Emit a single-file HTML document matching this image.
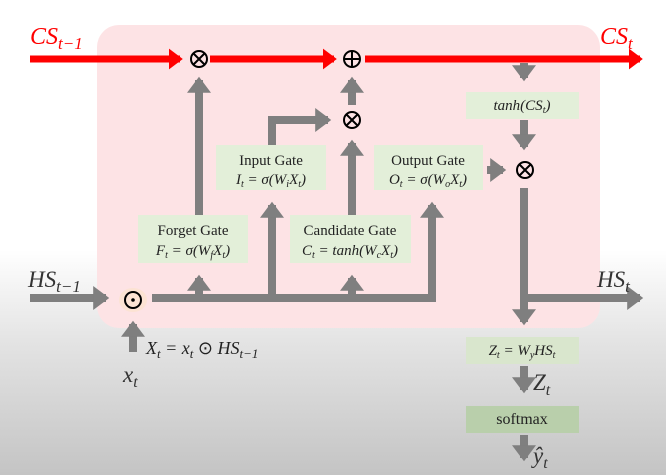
<!DOCTYPE html>
<html><head><meta charset="utf-8"><style>
html,body{margin:0;padding:0;}
body{width:666px;height:475px;overflow:hidden;background:linear-gradient(to bottom,#ffffff 0px,#ffffff 250px,#e4e4e4 340px,#c4c4c4 475px);}
svg{position:absolute;left:0;top:0;}
text{font-family:"Liberation Serif",serif;}
.m{font-style:italic;}
</style></head><body>
<svg width="666" height="475" viewBox="0 0 666 475">
<defs>
<marker id="g" markerWidth="3" markerHeight="3" refX="1.6" refY="1.5" orient="auto" markerUnits="strokeWidth"><path d="M0,0 L2,1.5 L0,3 z" fill="#7f7f7f"/></marker>
<marker id="r" markerWidth="3" markerHeight="3" refX="1.6" refY="1.5" orient="auto" markerUnits="strokeWidth"><path d="M0,0 L2,1.5 L0,3 z" fill="#ff0000"/></marker>
</defs>
<rect x="97" y="25" width="503" height="303" rx="22" fill="#fde3e5"/>
<ellipse cx="133" cy="300" rx="14" ry="12" fill="#fbe2cc" opacity="0.7"/>
<g stroke="#ff0000" stroke-width="7" fill="none">
<line x1="30" y1="59" x2="180" y2="59" marker-end="url(#r)"/>
<line x1="210" y1="59" x2="334" y2="59" marker-end="url(#r)"/>
<line x1="365" y1="59" x2="640" y2="59" marker-end="url(#r)"/>
</g>
<g stroke="#7f7f7f" stroke-width="8" fill="none">
<line x1="199" y1="215" x2="199" y2="80" marker-end="url(#g)"/>
<polyline points="272,145 272,120 328,120" marker-end="url(#g)"/>
<line x1="352" y1="215" x2="352" y2="143" marker-end="url(#g)"/>
<line x1="352" y1="105" x2="352" y2="80" marker-end="url(#g)"/>
<line x1="487" y1="170" x2="503" y2="170" marker-end="url(#g)"/>
<line x1="524" y1="63" x2="524" y2="78" marker-end="url(#g)"/>
<line x1="524" y1="120" x2="524" y2="147" marker-end="url(#g)"/>
<line x1="524" y1="188" x2="524" y2="322" marker-end="url(#g)"/>
<line x1="524" y1="298" x2="640" y2="298" marker-end="url(#g)"/>
<line x1="30" y1="298" x2="106" y2="298" marker-end="url(#g)"/>
<polyline points="152,298 432,298 432,205" marker-end="url(#g)"/>
<line x1="199" y1="298" x2="199" y2="278" marker-end="url(#g)"/>
<line x1="272" y1="298" x2="272" y2="205" marker-end="url(#g)"/>
<line x1="352" y1="298" x2="352" y2="278" marker-end="url(#g)"/>
<line x1="133" y1="352" x2="133" y2="324" marker-end="url(#g)"/>
<line x1="524" y1="366" x2="524" y2="390" marker-end="url(#g)"/>
<line x1="524" y1="435" x2="524" y2="458" marker-end="url(#g)"/>
</g>
<g fill="#e3efd9">
<rect x="138" y="215" width="110" height="48"/>
<rect x="216" y="145" width="110" height="45"/>
<rect x="290" y="215" width="121" height="48"/>
<rect x="374" y="145" width="109" height="45"/>
<rect x="466" y="92" width="113" height="27"/>
<rect x="466" y="337" width="113" height="27" fill="#d9e6cd"/>
</g>
<rect x="466" y="406" width="113" height="27" fill="#b9cfab"/>
<g stroke="#000" stroke-width="2" fill="none">
<circle cx="199" cy="59" r="8"/><path d="M193.5,53.5 L204.5,64.5 M204.5,53.5 L193.5,64.5"/>
<circle cx="352" cy="59" r="8"/><path d="M344,59 H360 M352,51 V67"/>
<circle cx="352" cy="120" r="8"/><path d="M346.5,114.5 L357.5,125.5 M357.5,114.5 L346.5,125.5"/>
<circle cx="525" cy="170" r="8"/><path d="M519.5,164.5 L530.5,175.5 M530.5,164.5 L519.5,175.5"/>
<circle cx="133" cy="300" r="8"/>
</g>
<circle cx="133" cy="300" r="1.8" fill="#000"/>
<g font-size="24" fill="#ff0000">
<text x="30" y="44" class="m">CS<tspan font-size="17" dy="5">t−1</tspan></text>
<text x="600" y="44" class="m">CS<tspan font-size="17" dy="5">t</tspan></text>
</g>
<g font-size="23" fill="#333">
<text x="28" y="287" class="m">HS<tspan font-size="17" dy="5">t−1</tspan></text>
<text x="597" y="287" class="m">HS<tspan font-size="17" dy="5">t</tspan></text>
<text x="123" y="382" class="m">x<tspan font-size="16" dy="5">t</tspan></text>
<text x="533" y="390" class="m">Z<tspan font-size="16" dy="5">t</tspan></text>
<text x="533" y="463" class="m">ŷ<tspan font-size="16" dy="5">t</tspan></text>
</g>
<text x="146" y="354" font-size="18" fill="#222" class="m">X<tspan font-size="13" dy="4">t</tspan><tspan dy="-4"> = x</tspan><tspan font-size="13" dy="4">t</tspan><tspan dy="-4" font-style="normal"> ⊙ </tspan>HS<tspan font-size="13" dy="4">t−1</tspan></text>
<g font-size="15" fill="#222" text-anchor="middle">
<text x="193" y="235">Forget Gate</text>
<text x="193" y="255" class="m">F<tspan font-size="10" dy="3">t</tspan><tspan dy="-3"> = σ(W</tspan><tspan font-size="10" dy="3">f</tspan><tspan dy="-3">X</tspan><tspan font-size="10" dy="3">t</tspan><tspan dy="-3">)</tspan></text>
<text x="271" y="165">Input Gate</text>
<text x="271" y="184" class="m">I<tspan font-size="10" dy="3">t</tspan><tspan dy="-3"> = σ(W</tspan><tspan font-size="10" dy="3">i</tspan><tspan dy="-3">X</tspan><tspan font-size="10" dy="3">t</tspan><tspan dy="-3">)</tspan></text>
<text x="350" y="235">Candidate Gate</text>
<text x="350" y="255" class="m">C<tspan font-size="10" dy="3">t</tspan><tspan dy="-3"> = tanh(W</tspan><tspan font-size="10" dy="3">c</tspan><tspan dy="-3">X</tspan><tspan font-size="10" dy="3">t</tspan><tspan dy="-3">)</tspan></text>
<text x="428" y="165">Output Gate</text>
<text x="428" y="184" class="m">O<tspan font-size="10" dy="3">t</tspan><tspan dy="-3"> = σ(W</tspan><tspan font-size="10" dy="3">o</tspan><tspan dy="-3">X</tspan><tspan font-size="10" dy="3">t</tspan><tspan dy="-3">)</tspan></text>
<text x="522" y="110" class="m">tanh(CS<tspan font-size="10" dy="3">t</tspan><tspan dy="-3">)</tspan></text>
<text x="522" y="355" class="m">Z<tspan font-size="10" dy="3">t</tspan><tspan dy="-3"> = W</tspan><tspan font-size="10" dy="3">y</tspan><tspan dy="-3">HS</tspan><tspan font-size="10" dy="3">t</tspan></text>
<text x="522" y="424" font-size="16">softmax</text>
</g>
</svg>
</body></html>
